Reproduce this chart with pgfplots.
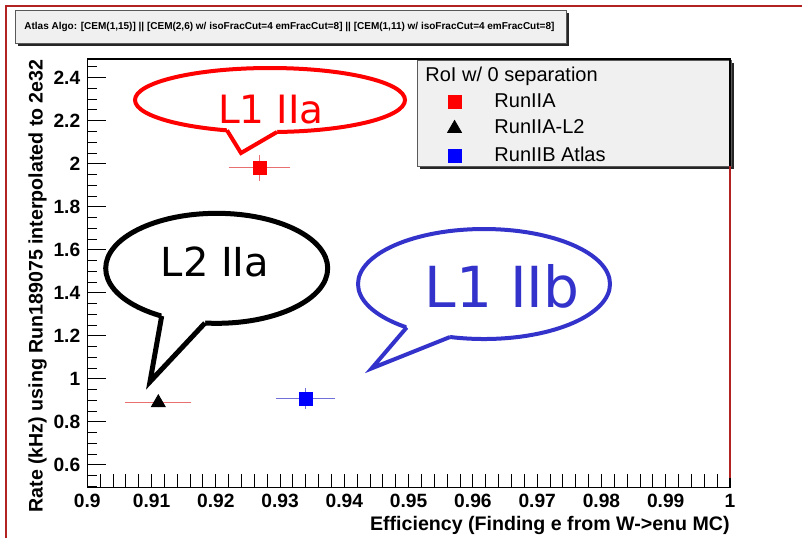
\documentclass[border=0pt]{standalone}
\usepackage{pgfplots}
\pgfplotsset{compat=1.18}
\usepackage{fontspec}
\setmainfont{Liberation Sans}
\newfontfamily\bubblefont{DejaVu Sans}
\definecolor{framered}{HTML}{B22222}
\definecolor{bubbleblue}{HTML}{3333CC}
\definecolor{boxgray}{HTML}{F0F0F0}
\definecolor{errred}{HTML}{E87070}
\definecolor{errblue}{HTML}{7070D8}
\begin{document}
\begin{tikzpicture}
\begin{scope}[x=0.5pt,y=-0.5pt]
\useasboundingbox (0,0) rectangle (802,538);
% outer frame
\draw[framered, line width=0.8pt] (6,538) -- (6,6) -- (802,6);
% title box
\fill[black!85] (18,13) rectangle (569,46);
\filldraw[fill=boxgray, draw=gray!70!black, line width=0.4pt] (15,10) rectangle (566,43);
\node[font=\fontsize{5}{6}\selectfont\bfseries, anchor=west, inner sep=0pt] at (24,27) {Atlas Algo: [CEM(1,15)] || [CEM(2,6) w/ isoFracCut=4 emFracCut=8] || [CEM(1,11) w/ isoFracCut=4 emFracCut=8]};
% legend box
\fill[black!85] (420,63) rectangle (734,169);
\filldraw[fill=boxgray, draw=gray!70!black, line width=0.4pt] (417,60) rectangle (731,166);
\node[font=\fontsize{10}{12}\selectfont, anchor=base west, inner sep=0pt] at (425,81) {RoI w/ 0 separation};
\end{scope}

\begin{axis}[
  at={(43.65pt,-243.65pt)}, anchor=south west,
  scale only axis, width=321.35pt, height=214.15pt,
  xmin=0.9, xmax=1, ymin=0.496, ymax=2.487,
  axis line style={black, line width=0.6pt},
  tick pos=left, tick align=inside,
  xtick={0.9,0.91,0.92,0.93,0.94,0.95,0.96,0.97,0.98,0.99,1},
  xticklabels={0.9,0.91,0.92,0.93,0.94,0.95,0.96,0.97,0.98,0.99,1},
  ytick={0.6,0.8,1,1.2,1.4,1.6,1.8,2,2.2,2.4},
  yticklabels={0.6,0.8,1,1.2,1.4,1.6,1.8,2,2.2,2.4},
  extra x ticks={0.902,0.904,0.906,0.908,0.912,0.914,0.916,0.918,0.922,0.924,0.926,0.928,0.932,0.934,0.936,0.938,0.942,0.944,0.946,0.948,0.952,0.954,0.956,0.958,0.962,0.964,0.966,0.968,0.972,0.974,0.976,0.978,0.982,0.984,0.986,0.988,0.992,0.994,0.996,0.998},
  extra x tick labels={},
  extra x tick style={/pgfplots/major tick length=3.4pt, black, line width=0.5pt},
  extra y ticks={0.5,0.55,0.65,0.7,0.75,0.85,0.9,0.95,1.05,1.1,1.15,1.25,1.3,1.35,1.45,1.5,1.55,1.65,1.7,1.75,1.85,1.9,1.95,2.05,2.1,2.15,2.25,2.3,2.35,2.45},
  extra y tick labels={},
  extra y tick style={/pgfplots/major tick length=4.7pt, black, line width=0.5pt},
  major tick length=9.3pt,
  xtick style={/pgfplots/major tick length=6.6pt, black, line width=0.5pt},
  ytick style={black, line width=0.5pt},
  ticklabel style={font=\fontsize{9.6}{11}\selectfont\bfseries},
  /pgf/number format/assume math mode=true,
  legend style={at={(0.56,0.928)}, anchor=north west, draw=none, fill=none,
    font=\fontsize{10}{12}\selectfont, inner sep=0pt, row sep=2pt, column sep=15pt,
    nodes={inner sep=1.5pt}},
  legend cell align=left,
]
\addplot+[only marks, mark=square*, mark size=3.25pt, draw=red, fill=red, mark options={draw=red, fill=red},
  error bars/.cd, x dir=both, x explicit, y dir=both, y explicit,
  error bar style={errred, line width=0.6pt}, error mark options={errred, mark size=1.5pt}]
  coordinates {(0.9268,1.981) +- (0.00433,0.045)};
\addlegendentry{RunIIA}
\addplot+[only marks, mark=triangle*, mark size=4pt, draw=black, fill=black, mark options={draw=black, fill=black},
  error bars/.cd, x dir=both, x explicit, y dir=both, y explicit,
  error bar style={errred, line width=0.6pt}, error mark options={errred, mark size=1.5pt}]
  coordinates {(0.91105,0.889) +- (0.00467,0.008)};
\addlegendentry{RunIIA-L2}
\addplot+[only marks, mark=square*, mark size=3.25pt, draw=blue, fill=blue, mark options={draw=blue, fill=blue},
  error bars/.cd, x dir=both, x explicit, y dir=both, y explicit,
  error bar style={errblue, line width=0.6pt}, error mark options={errblue, mark size=1.5pt}]
  coordinates {(0.93398,0.908) +- (0.0041,0.035)};
\addlegendentry{RunIIB Atlas}
\end{axis}

\begin{scope}[x=0.5pt,y=-0.5pt]
% red right frame segment
\draw[framered, line width=0.7pt] (730,166) -- (730,478);
% axis labels
\node[font=\fontsize{9.8}{11}\selectfont\bfseries, anchor=base east, inner sep=0pt] at (730,530) {Efficiency (Finding e from W->enu MC)};
\node[font=\fontsize{9.8}{11}\selectfont\bfseries, anchor=base east, rotate=90, inner sep=0pt] at (42.5,59) {Rate (kHz) using Run189075 interpolated to 2e32};
% red bubble
\filldraw[red, fill=white, line width=2pt] (270,100) ellipse [x radius=135, y radius=32];
\fill[white] (227,120) -- (227,130.3) -- (241,153) -- (277,132) -- (277,122) -- cycle;
\draw[red, line width=2pt, line join=miter] (227,130.3) -- (241,153) -- (277,132);
\node[red, font=\bubblefont\fontsize{19.5}{22}\selectfont, anchor=base, inner sep=0pt] at (271,123) {L1 IIa};
% black bubble
\filldraw[black, fill=white, line width=2.5pt] (216.7,268.3) ellipse [x radius=111, y radius=55];
\fill[white] (161.7,306) -- (161.7,316) -- (150,381.7) -- (205,323) -- (205,313) -- cycle;
\draw[black, line width=2.5pt, line join=miter] (161.7,316) -- (150,381.7) -- (205,323);
\node[black, font=\bubblefont\fontsize{20}{22}\selectfont, anchor=base, inner sep=0pt] at (215,276.7) {L2 IIa};
% blue bubble
\filldraw[bubbleblue, fill=white, line width=2pt] (484,284) ellipse [x radius=126, y radius=55];
\fill[white] (406.7,317) -- (406.7,327.4) -- (371.7,368.3) -- (450,337) -- (450,327) -- cycle;
\draw[bubbleblue, line width=2pt, line join=miter] (406.7,327.4) -- (371.7,368.3) -- (450,337);
\node[bubbleblue, font=\bubblefont\fontsize{28.3}{30}\selectfont, anchor=base, inner sep=0pt] at (502,307) {L1 IIb};
\end{scope}
\end{tikzpicture}
\end{document}
